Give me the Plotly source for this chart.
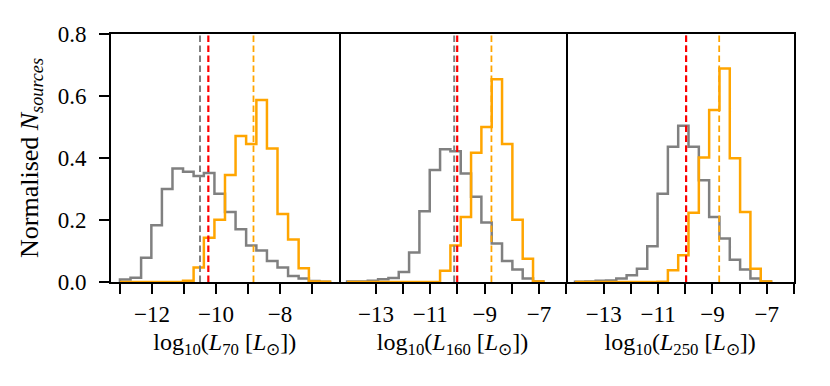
import plotly.graph_objects as go

# bin edges (log10 L)
edges_70 = [-13.00, -12.67, -12.34, -12.02, -11.69, -11.36, -11.03, -10.70, -10.38, -10.05,
            -9.72, -9.39, -9.06, -8.74, -8.41, -8.08, -7.75, -7.42, -7.10, -6.77, -6.44]
edges_sub = [-14.06, -13.68, -13.30, -12.92, -12.54, -12.16, -11.78, -11.40, -11.02, -10.64,
             -10.26, -9.88, -9.50, -9.12, -8.74, -8.36, -7.98, -7.60, -7.22, -6.84]

# normalised counts, grey = all sources, orange = detected
grey_70 = [0.008, 0.014, 0.078, 0.183, 0.300, 0.366, 0.356, 0.342, 0.352, 0.285,
           0.226, 0.170, 0.118, 0.102, 0.068, 0.047, 0.019, 0.011, 0.003, 0.001]
orange_70 = [0.0, 0.0, 0.0, 0.0, 0.0, 0.0, 0.004, 0.047, 0.143, 0.201,
             0.345, 0.471, 0.445, 0.587, 0.431, 0.219, 0.137, 0.044, 0.002, 0.001]

grey_160 = [0.002, 0.002, 0.004, 0.009, 0.013, 0.032, 0.095, 0.228, 0.361, 0.428,
            0.422, 0.350, 0.275, 0.192, 0.124, 0.068, 0.040, 0.011, 0.002]
orange_160 = [0.0, 0.0, 0.0, 0.0, 0.0, 0.0, 0.0, 0.0, 0.0, 0.036,
              0.118, 0.210, 0.417, 0.500, 0.654, 0.445, 0.201, 0.075, 0.002]

grey_250 = [0.001, 0.002, 0.004, 0.005, 0.011, 0.022, 0.043, 0.115, 0.285, 0.436,
            0.504, 0.436, 0.328, 0.210, 0.140, 0.072, 0.040, 0.011, 0.002]
orange_250 = [0.0, 0.0, 0.0, 0.0, 0.0, 0.0, 0.0, 0.0, 0.001, 0.038,
              0.086, 0.223, 0.402, 0.555, 0.689, 0.399, 0.226, 0.043, 0.002]

# medians / thresholds shown as dashed lines
grey_med = [-10.50, -10.12, -9.97]
red_lim = [-10.24, -10.01, -9.97]
orange_med = [-8.83, -8.75, -8.75]

bands = ['70', '160', '250']
panels = [
    (edges_70, grey_70, orange_70),
    (edges_sub, grey_160, orange_160),
    (edges_sub, grey_250, orange_250),
]

FONT = 'Liberation Serif'


def step(edges, vals):
    x = [edges[0]] + list(edges[:-1]) + [edges[-1], edges[-1]]
    y = [0] + list(vals) + [vals[-1], 0]
    return x, y


fig = go.Figure()

for i, (edges, g, o) in enumerate(panels):
    xa = 'x' if i == 0 else f'x{i+1}'
    ya = 'y' if i == 0 else f'y{i+1}'
    for vals, col in [(g, 'grey'), (o, 'orange')]:
        x, y = step(edges, vals)
        fig.add_trace(go.Scatter(x=x, y=y, mode='lines', line_shape='hv',
                                 line=dict(color=col, width=2.5),
                                 xaxis=xa, yaxis=ya, showlegend=False,
                                 hoverinfo='skip'))

for i in range(3):
    xr = 'x' if i == 0 else f'x{i+1}'
    yr = 'y domain' if i == 0 else f'y{i+1} domain'
    for val, col, w in [(grey_med[i], 'grey', 2), (red_lim[i], 'red', 2.2),
                        (orange_med[i], 'orange', 1.8)]:
        fig.add_shape(type='line', xref=xr, yref=yr, x0=val, x1=val, y0=0, y1=1,
                      line=dict(color=col, width=w, dash='6.5px,3.5px'))

tick_font = dict(family=FONT, size=23, color='black')
title_font = dict(family=FONT, size=24, color='black')


def xaxis(domain, anchor, rng, major, minor, band):
    return dict(domain=domain, anchor=anchor, range=rng,
                tickmode='array', tickvals=major,
                minor=dict(tickmode='array', tickvals=minor, ticks='outside',
                           ticklen=10, tickwidth=2, tickcolor='black'),
                ticks='outside', ticklen=10, tickwidth=2, tickcolor='black',
                ticklabelstandoff=0,
                showline=True, linewidth=2, linecolor='black', mirror=True,
                showgrid=False, zeroline=False, tickfont=tick_font,
                title=dict(text=f'log<sub>10</sub>(<i>L</i><sub>{band}</sub> [<i>L</i><sub>⊙</sub>])',
                           font=title_font, standoff=8))


def right_ticks(over, anchor):
    return dict(overlaying=over, anchor=anchor, side='right', range=[0, 0.8],
                tickvals=[0.2, 0.4, 0.6], ticks='inside', ticklen=9, tickwidth=2,
                tickcolor='black', showticklabels=False, showline=False,
                showgrid=False, zeroline=False)


d = 1 / 3
fig.update_layout(
    width=822, height=378,
    margin=dict(l=103, r=36, t=26, b=104),
    plot_bgcolor='white', paper_bgcolor='white',
    font=dict(family=FONT, size=23, color='black'),
    xaxis=xaxis([0, d], 'y', [-13.28, -6.17], [-12, -10, -8], [-13, -11, -9, -7], bands[0]),
    xaxis2=xaxis([d, 2 * d], 'y2', [-14.37, -5.995], [-13, -11, -9, -7], [-12, -10, -8, -6], bands[1]),
    xaxis3=xaxis([2 * d, 1], 'y3', [-14.38, -5.995], [-13, -11, -9, -7], [-12, -10, -8, -6], bands[2]),
    yaxis=dict(anchor='x', range=[0, 0.8], tickvals=[0, 0.2, 0.4, 0.6, 0.8],
               tickformat='.1f', ticks='outside', ticklen=10, tickwidth=2,
               tickcolor='black', tickfont=tick_font, ticklabelstandoff=8,
               showline=True, linewidth=2, linecolor='black', mirror=True,
               showgrid=False, zeroline=False,
               title=dict(text='Normalised <i>N</i><sub><i>sources</i></sub>',
                          font=dict(family=FONT, size=26, color='black'), standoff=12)),
    yaxis2=dict(anchor='x2', side='right', range=[0, 0.8], ticks='', showticklabels=False,
                showline=True, linewidth=2, linecolor='black', mirror=False,
                showgrid=False, zeroline=False),
    yaxis3=dict(anchor='x3', side='right', range=[0, 0.8], ticks='', showticklabels=False,
                showline=True, linewidth=2, linecolor='black', mirror=False,
                showgrid=False, zeroline=False),
    # inward ticks on the right edge of the first two panels
    yaxis4=right_ticks('y', 'x'),
    yaxis5=right_ticks('y2', 'x2'),
)

fig.write_html("out.html")
